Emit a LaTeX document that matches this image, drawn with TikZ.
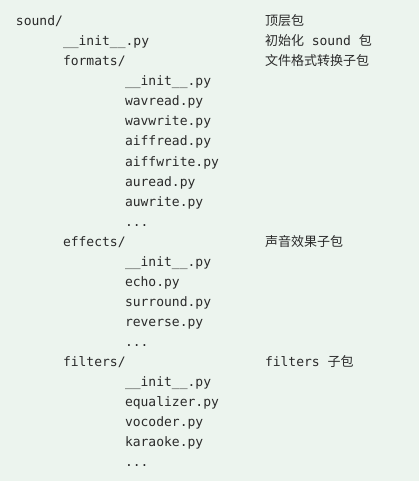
\documentclass[tikz,border=0pt]{standalone}
\usepackage{fontspec}
\setmonofont{DejaVu Sans Mono}
\newfontfamily\cjkfont{Noto Sans CJK SC}
\definecolor{bgcol}{HTML}{ECF4EE}
\definecolor{txtcol}{HTML}{2A2A2A}
\begin{document}
\begin{tikzpicture}[x=1pt,y=-1pt,
  code/.style={anchor=base west,inner sep=0pt,outer sep=0pt,text=txtcol,
    font=\fontsize{13pt}{13pt}\selectfont\ttfamily},
  note/.style={anchor=base west,inner sep=0pt,outer sep=0pt,text=txtcol,
    font=\fontsize{13pt}{13pt}\selectfont\cjkfont}]
\fill[bgcol] (0,0) rectangle (419,481);
\useasboundingbox (0,0) rectangle (419,481);
\def\la{16}\def\lb{63}\def\lc{125}\def\ld{265}
\node[code] (sound) at (\la,26) {sound/};
\node[note] (c0) at (\ld,26) {顶层包};
\node[code] (init0) at (\lb,46) {\_\_init\_\_.py};
\node[note] (c1) at (\ld,46) {初始化{\ttfamily\ sound\ }包};
\node[code] (formats) at (\lb,66) {formats/};
\node[note] (c2) at (\ld,66) {文件格式转换子包};
\node[code] (f1) at (\lc,86) {\_\_init\_\_.py};
\node[code] (f2) at (\lc,106) {wavread.py};
\node[code] (f3) at (\lc,126) {wavwrite.py};
\node[code] (f4) at (\lc,146) {aiffread.py};
\node[code] (f5) at (\lc,166) {aiffwrite.py};
\node[code] (f6) at (\lc,186) {auread.py};
\node[code] (f7) at (\lc,206) {auwrite.py};
\node[code] (f8) at (\lc,226) {...};
\node[code] (effects) at (\lb,246) {effects/};
\node[note] (c3) at (\ld,246) {声音效果子包};
\node[code] (e1) at (\lc,266) {\_\_init\_\_.py};
\node[code] (e2) at (\lc,286) {echo.py};
\node[code] (e3) at (\lc,306) {surround.py};
\node[code] (e4) at (\lc,326) {reverse.py};
\node[code] (e5) at (\lc,346) {...};
\node[code] (filters) at (\lb,366) {filters/};
\node[note] (c4) at (\ld,366) {{\ttfamily filters\ }子包};
\node[code] (g1) at (\lc,386) {\_\_init\_\_.py};
\node[code] (g2) at (\lc,406) {equalizer.py};
\node[code] (g3) at (\lc,426) {vocoder.py};
\node[code] (g4) at (\lc,446) {karaoke.py};
\node[code] (g5) at (\lc,466) {...};
\end{tikzpicture}
\end{document}
